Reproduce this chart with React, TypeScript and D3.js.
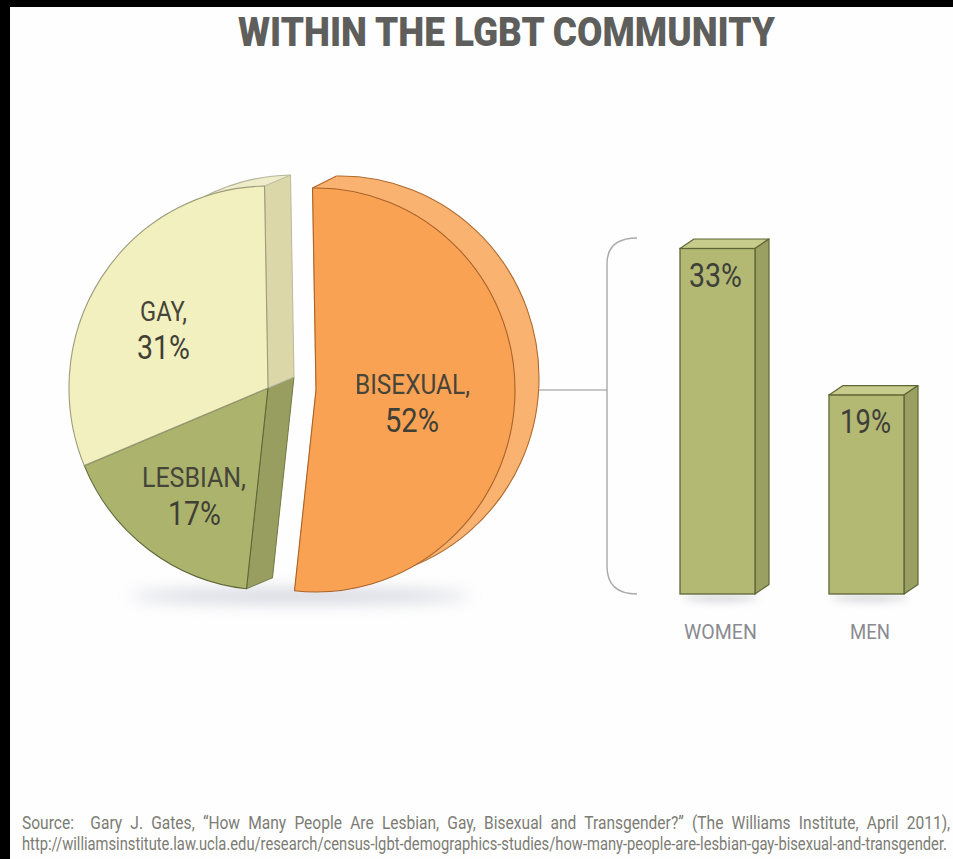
import React, { useLayoutEffect, useRef } from "react";
import * as d3 from "d3";

// Pie shares of the LGBT community, in draw order (clockwise from just left of north).
const sliceNames = ["BISEXUAL,", "LESBIAN,", "GAY,"];
const sliceValues = [52, 17, 31];
const sliceLabels = ["52%", "17%", "31%"];

// Breakdown of the bisexual share.
const barCategories = ["WOMEN", "MEN"];
const barValues = [33, 19];
const barLabels = ["33%", "19%"];

const titleText = "WITHIN THE LGBT COMMUNITY";
const sourceLine1 =
  "Source:  Gary J. Gates, \u201CHow Many People Are Lesbian, Gay, Bisexual and Transgender?\u201D (The Williams Institute, April 2011),";
const sourceLine2 =
  "http://williamsinstitute.law.ucla.edu/research/census-lgbt-demographics-studies/how-many-people-are-lesbian-gay-bisexual-and-transgender.";

const WIDTH = 953;
const HEIGHT = 859;
const FONT = "Roboto, 'Liberation Sans', sans-serif";
const RADIUS = 199;
const SQUASH_Y = 1.015;

const sliceStyles = [
  { cx: 316, cy: 390, dx: 24, dy: -12, front: "#f9a254", back: "#f9b26f", side: "#f9b26f", line: "#a9632a", rim: "#b06a2e" },
  { cx: 268, cy: 388, dx: 26, dy: -11, front: "#acb36d", back: "#979e5f", side: "#979e5f", line: "#5f6838", rim: "#6e7644" },
  { cx: 268, cy: 388, dx: 26, dy: -11, front: "#f3f0bf", back: "#efecca", side: "#dbd7a8", line: "#9c9c7c", rim: "#b4b49a" },
];

const labelBoxes = [
  [
    { x: 355, w: 115, base: 394, size: 27 },
    { x: 385, w: 54, base: 432, size: 33 },
  ],
  [
    { x: 142, w: 104, base: 487, size: 27 },
    { x: 168, w: 53, base: 525, size: 33 },
  ],
  [
    { x: 140, w: 47, base: 321, size: 27 },
    { x: 137, w: 53, base: 359, size: 33 },
  ],
];

const pie = d3
  .pie<number>()
  .sort(null)
  .startAngle((-1 * Math.PI) / 180)
  .endAngle(((360 - 1) * Math.PI) / 180);

const sectorArc = d3.arc<d3.PieArcDatum<number>>().innerRadius(0).outerRadius(RADIUS);
const rimArc = d3.arc<d3.PieArcDatum<number>>().innerRadius(RADIUS).outerRadius(RADIUS);

// Bar geometry: a shared baseline, with a height scale fed by the percentages.
const barBase = 594;
const barHeight = d3.scaleLinear().domain([0, 33]).range([0, 345.5]);
const barX = d3.scaleOrdinal<string, number>().domain(barCategories).range([680, 829]);
const barW = 75;
const barDx = 14;
const barDy = -9.5;

// Text squeezed horizontally to a set width, measured once it is laid out.
function FitText(props: {
  x: number;
  y: number;
  w: number;
  size: number;
  fill: string;
  weight?: number;
  children: string;
  wordSpacing?: number;
}) {
  const ref = useRef<SVGTextElement>(null);
  useLayoutEffect(() => {
    const el = ref.current;
    if (!el) return;
    const natural = el.getComputedTextLength();
    el.setAttribute("transform", `translate(${props.x},${props.y}) scale(${props.w / natural},1)`);
  });
  return (
    <text
      ref={ref}
      transform={`translate(${props.x},${props.y})`}
      fontFamily={FONT}
      fontSize={props.size}
      fontWeight={props.weight ?? 400}
      fill={props.fill}
      style={{ wordSpacing: props.wordSpacing, whiteSpace: "pre" }}
    >
      {props.children}
    </text>
  );
}

export default function App() {
  const slices = pie(sliceValues);
  return (
    <svg
      width={WIDTH}
      height={HEIGHT}
      viewBox={`0 0 ${WIDTH} ${HEIGHT}`}
      style={{ position: "absolute", left: 0, top: 0, display: "block" }}
    >
      <defs>
        <filter id="softShadow" x="-30%" y="-400%" width="160%" height="900%">
          <feGaussianBlur stdDeviation="8" />
        </filter>
        <filter id="barShadow" x="-30%" y="-400%" width="160%" height="900%">
          <feGaussianBlur stdDeviation="4" />
        </filter>
      </defs>
      <rect width={WIDTH} height={HEIGHT} fill="#000" />
      <rect x={10} y={7} width={WIDTH - 10} height={HEIGHT - 7} fill="#fefefe" />

      <FitText x={238} y={46} w={537} size={41} weight={900} fill="#5e5e5c">
        {titleText}
      </FitText>

      {/* Ground shadows */}
      <ellipse cx={300} cy={596} rx={170} ry={6} fill="#9a9db4" opacity={0.5} filter="url(#softShadow)" />
      {barCategories.map((c) => (
        <ellipse
          key={c}
          cx={(barX(c) as number) + barW / 2 + 3}
          cy={598}
          rx={barW / 2}
          ry={3}
          fill="#a0a2aa"
          opacity={0.55}
          filter="url(#barShadow)"
        />
      ))}

      {/* Extruded pie: rear copy, cut faces, then the front sectors */}
      {slices.map((s, i) => {
        const st = sliceStyles[i];
        return (
          <g key={`back-${i}`} transform={`translate(${st.cx + st.dx},${st.cy + st.dy}) scale(1,${SQUASH_Y})`}>
            <path d={sectorArc(s) as string} fill={st.back} />
            <path d={rimArc(s) as string} fill="none" stroke={st.rim} strokeWidth={1.1} />
          </g>
        );
      })}
      {slices.map((s, i) => {
        const st = sliceStyles[i];
        const corner = (a: number) => {
          const [px, py] = d3.pointRadial(a, RADIUS);
          return [px, py * SQUASH_Y];
        };
        const exploded = i === 0;
        return [s.startAngle, s.endAngle].map((a, j) => {
          const [px, py] = corner(a);
          // The two flat cuts of the bisexual slice hide behind its face, so only the corner edge is stroked.
          const quad = d3.path();
          quad.moveTo(st.cx, st.cy);
          quad.lineTo(st.cx + st.dx, st.cy + st.dy);
          quad.lineTo(st.cx + st.dx + px, st.cy + st.dy + py);
          quad.lineTo(st.cx + px, st.cy + py);
          quad.closePath();
          const edge = d3.path();
          edge.moveTo(st.cx + px, st.cy + py);
          edge.lineTo(st.cx + st.dx + px, st.cy + st.dy + py);
          return (
            <g key={`side-${i}-${j}`}>
              <path
                d={quad.toString()}
                fill={st.side}
                stroke={exploded ? st.side : st.rim}
                strokeWidth={0.9}
                strokeLinejoin="round"
              />
              {exploded && <path d={edge.toString()} fill="none" stroke={st.rim} strokeWidth={1.1} />}
            </g>
          );
        });
      })}
      {slices.map((s, i) => {
        const st = sliceStyles[i];
        return (
          <path
            key={`front-${i}`}
            transform={`translate(${st.cx},${st.cy}) scale(1,${SQUASH_Y})`}
            d={sectorArc(s) as string}
            fill={st.front}
            stroke={st.line}
            strokeWidth={1.1}
            strokeLinejoin="round"
          />
        );
      })}

      {/* Pie labels */}
      {slices.map((_, i) => (
        <g key={`label-${i}`}>
          <FitText
            x={labelBoxes[i][0].x}
            y={labelBoxes[i][0].base}
            w={labelBoxes[i][0].w}
            size={labelBoxes[i][0].size}
            fill="#45453a"
          >
            {sliceNames[i]}
          </FitText>
          <FitText
            x={labelBoxes[i][1].x}
            y={labelBoxes[i][1].base}
            w={labelBoxes[i][1].w}
            size={labelBoxes[i][1].size}
            fill="#3f3f36"
          >
            {sliceLabels[i]}
          </FitText>
        </g>
      ))}

      {/* Connector and brace leading to the bars */}
      <path d="M539,390 H607" fill="none" stroke="#b5b5b5" strokeWidth={1.6} />
      <path
        d="M637,238 Q607,238 607,264 V566 Q607,594 637,594"
        fill="none"
        stroke="#a9a9a9"
        strokeWidth={1.4}
      />

      {/* Extruded bars */}
      {barCategories.map((c, i) => {
        const x = barX(c) as number;
        const h = barHeight(barValues[i]);
        const top = barBase - h;
        const lx = i === 0 ? 689 : 840;
        const lw = i === 0 ? 53 : 51;
        const top3d = [
          [x, top],
          [x + barDx, top + barDy],
          [x + barW + barDx, top + barDy],
          [x + barW, top],
        ];
        const side3d = [
          [x + barW, top],
          [x + barW + barDx, top + barDy],
          [x + barW + barDx, barBase + barDy],
          [x + barW, barBase],
        ];
        const poly = d3.line();
        return (
          <g key={c}>
            <path d={`${poly(top3d as [number, number][])}Z`} fill="#c7cc8c" stroke="#5f6636" strokeWidth={1.2} strokeLinejoin="round" />
            <path d={`${poly(side3d as [number, number][])}Z`} fill="#9aa061" stroke="#5f6636" strokeWidth={1.2} strokeLinejoin="round" />
            <rect x={x} y={top} width={barW} height={h} fill="#b3b872" stroke="#5f6636" strokeWidth={1.3} />
            <FitText x={lx} y={top + 38} w={lw} size={33} fill="#3f3f3a">
              {barLabels[i]}
            </FitText>
            <FitText x={i === 0 ? 684 : 850} y={639} w={i === 0 ? 73 : 40} size={21} fill="#8a8a90">
              {c}
            </FitText>
          </g>
        );
      })}

      {/* Source note */}
      <FitText x={22} y={829} w={929} size={18} fill="#7c7c74" wordSpacing={5}>
        {sourceLine1}
      </FitText>
      <FitText x={22} y={850} w={926} size={18} fill="#7c7c74">
        {sourceLine2}
      </FitText>
    </svg>
  );
}
